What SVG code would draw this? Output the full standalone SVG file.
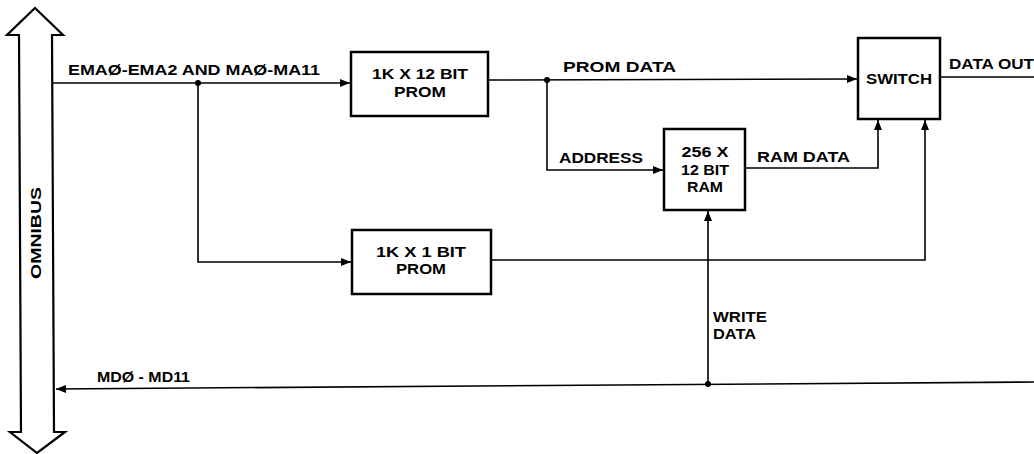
<svg xmlns="http://www.w3.org/2000/svg" width="1034" height="454" viewBox="0 0 1034 454">
<style>
text{font-family:"Liberation Sans",Arial,sans-serif;font-weight:bold;font-size:14px;fill:#000}
.box{fill:#fff;stroke:#000;stroke-width:2.5}
.ln{fill:none;stroke:#000;stroke-width:1.6}
.c{text-anchor:middle}
</style>
<defs>
<marker id="ah" viewBox="0 0 10 8" refX="10" refY="4" markerWidth="10" markerHeight="8" markerUnits="userSpaceOnUse" orient="auto">
<path d="M0,0 L10,4 L0,8 Z" fill="#000"/>
</marker>
</defs>
<rect width="1034" height="454" fill="#fff"/>
<g id="omnibus">
<path d="M35,8 L63,35 L52,35 L54,432 L65,432 L37,453 L10,432 L21,432 L19,35 L7,35 Z" fill="#fff" stroke="#000" stroke-width="2.2" stroke-linejoin="miter"/>
<text transform="translate(41,233) rotate(-90)" class="c" textLength="92" lengthAdjust="spacingAndGlyphs">OMNIBUS</text>
</g>
<g id="connectors">
<path class="ln" d="M52,83 L350,83" marker-end="url(#ah)"/>
<path class="ln" d="M198,83 L198,262 L351,262" marker-end="url(#ah)"/>
<path class="ln" d="M488,80 L857,79" marker-end="url(#ah)"/>
<path class="ln" d="M547,80 L547,170 L663,170" marker-end="url(#ah)"/>
<path class="ln" d="M745,168 L878,168 L878,120" marker-end="url(#ah)"/>
<path class="ln" d="M491,260 L925,260 L925,120" marker-end="url(#ah)"/>
<path class="ln" d="M940,77 L1034,77"/>
<path class="ln" d="M708,384 L708,211" marker-end="url(#ah)"/>
<path class="ln" d="M1034,382 L56,389" marker-end="url(#ah)"/>
<circle cx="198" cy="83" r="3"/>
<circle cx="547" cy="80" r="3"/>
<circle cx="708" cy="384" r="3"/>
<text x="68" y="75" textLength="252" lengthAdjust="spacingAndGlyphs">EMAØ-EMA2 AND MAØ-MA11</text>
<text x="563" y="72" textLength="113" lengthAdjust="spacingAndGlyphs">PROM  DATA</text>
<text x="559" y="163" textLength="84" lengthAdjust="spacingAndGlyphs">ADDRESS</text>
<text x="757" y="162" textLength="93" lengthAdjust="spacingAndGlyphs">RAM  DATA</text>
<text x="949" y="69" textLength="85" lengthAdjust="spacingAndGlyphs">DATA  OUT</text>
<text x="713" y="322" textLength="54" lengthAdjust="spacingAndGlyphs">WRITE</text>
<text x="713" y="339" textLength="43" lengthAdjust="spacingAndGlyphs">DATA</text>
<text x="97" y="382" textLength="93" lengthAdjust="spacingAndGlyphs">MDØ - MD11</text>
</g>
<g id="prom12">
<rect class="box" x="351" y="52" width="137" height="64"/>
<text x="420" y="79" class="c" textLength="96" lengthAdjust="spacingAndGlyphs">1K X 12 BIT</text>
<text x="420" y="97" class="c" textLength="52" lengthAdjust="spacingAndGlyphs">PROM</text>
</g>
<g id="prom1">
<rect class="box" x="352" y="230" width="139" height="64"/>
<text x="421" y="257" class="c" textLength="90" lengthAdjust="spacingAndGlyphs">1K X 1 BIT</text>
<text x="421" y="274" class="c" textLength="50" lengthAdjust="spacingAndGlyphs">PROM</text>
</g>
<g id="ram">
<rect class="box" x="664" y="129" width="81" height="81"/>
<text x="705" y="157" class="c" textLength="47" lengthAdjust="spacingAndGlyphs">256 X</text>
<text x="705" y="175" class="c" textLength="48" lengthAdjust="spacingAndGlyphs">12 BIT</text>
<text x="705" y="192" class="c" textLength="36" lengthAdjust="spacingAndGlyphs">RAM</text>
</g>
<g id="switch">
<rect class="box" x="858" y="38" width="82" height="81"/>
<text x="899" y="84" class="c" textLength="66" lengthAdjust="spacingAndGlyphs">SWITCH</text>
</g>
</svg>
